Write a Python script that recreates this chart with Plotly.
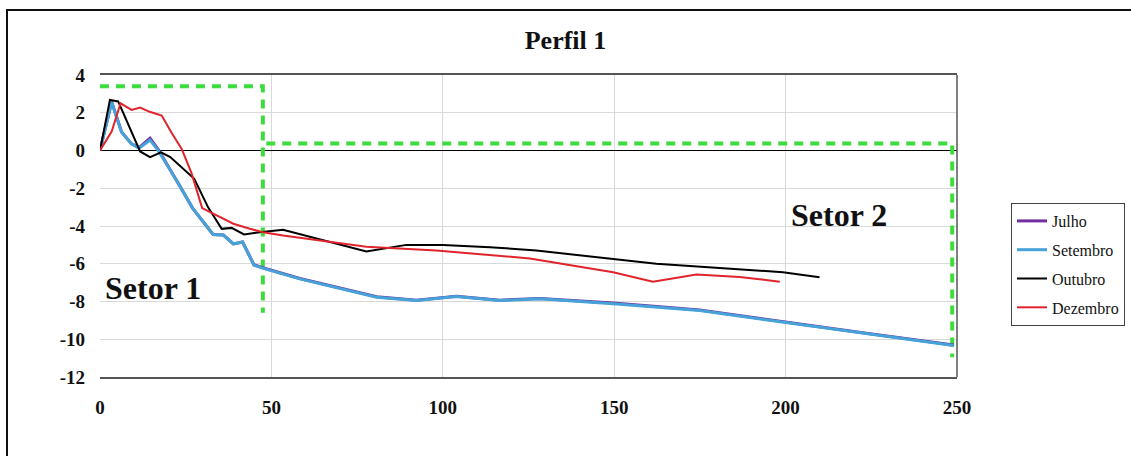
import plotly.graph_objects as go

# Profile data: distance (m) vs elevation (m)
julho_x = [0, 3.4, 6.3, 9.2, 11.4, 14.6, 17.0, 20.5, 23.5, 27.0, 29.8, 33.0, 36.0, 38.9, 41.6,
           44.9, 47.2, 58.3, 80.7, 92.3, 104.0, 116.6, 128.3, 149.7, 174.9, 199.2, 223.5, 249.0]
julho_y = [0, 2.58, 0.98, 0.35, 0.15, 0.65, 0.05, -1.0, -1.95, -3.05, -3.7, -4.45, -4.48, -4.95, -4.85,
           -6.05, -6.2, -6.78, -7.75, -7.93, -7.72, -7.93, -7.84, -8.08, -8.45, -9.08, -9.68, -10.3]

setembro_x = [0, 3.4, 6.3, 9.2, 11.4, 14.6, 17.0, 20.5, 23.5, 27.0, 29.8, 33.0, 36.0, 38.9, 41.6,
              44.9, 47.2, 58.3, 80.7, 92.3, 104.0, 116.6, 128.3, 149.7, 174.9, 199.2, 223.5, 249.0]
setembro_y = [0, 2.56, 0.97, 0.35, 0.12, 0.55, 0.0, -1.02, -1.95, -3.05, -3.7, -4.45, -4.48, -4.95, -4.85,
              -6.08, -6.22, -6.8, -7.77, -7.95, -7.73, -7.95, -7.86, -8.12, -8.48, -9.1, -9.71, -10.33]

outubro_x = [0, 2.9, 5.3, 11.7, 14.6, 17.8, 20.5, 23.5, 27.5, 31.5, 35.5, 38.4, 42.0, 46.6, 53.4,
             77.7, 89.4, 100.1, 113.7, 127.3, 149.7, 162.3, 199.2, 209.9]
outubro_y = [0, 2.68, 2.6, -0.05, -0.35, -0.1, -0.35, -0.85, -1.5, -3.0, -4.15, -4.1, -4.45, -4.33, -4.2,
             -5.35, -5.0, -5.0, -5.12, -5.3, -5.75, -6.0, -6.45, -6.72]

dezembro_x = [0, 3.4, 6.0, 9.2, 11.7, 14.5, 18.0, 21.0, 23.8, 26.7, 29.8, 34.0, 38.9, 43.7, 47.6,
              53.4, 77.7, 98.1, 125.4, 149.7, 161.3, 174.0, 186.6, 198.3]
dezembro_y = [0, 1.0, 2.5, 2.15, 2.28, 2.05, 1.85, 0.9, 0.1, -1.2, -3.05, -3.45, -3.88, -4.15, -4.33,
              -4.5, -5.1, -5.3, -5.72, -6.45, -6.95, -6.57, -6.7, -6.95]

# Sector outlines
setor1_x = [0, 47.5, 47.5]
setor1_y = [3.4, 3.4, -8.6]
setor2_x = [48.5, 248.6, 248.6]
setor2_y = [0.37, 0.37, -10.95]

x_ticks = [0, 50, 100, 150, 200, 250]
y_ticks = [4, 2, 0, -2, -4, -6, -8, -10, -12]

SERIF = "Liberation Serif"
GREEN = "#3cdc3c"

fig = go.Figure()

for sx, sy in [(setor1_x, setor1_y), (setor2_x, setor2_y)]:
    fig.add_trace(go.Scatter(x=sx, y=sy, mode="lines", showlegend=False, hoverinfo="skip",
                             line=dict(color=GREEN, width=4, dash="9px,7px")))

series = [
    ("Julho", julho_x, julho_y, "#7030a0", 3),
    ("Setembro", setembro_x, setembro_y, "#45a3d9", 3),
    ("Outubro", outubro_x, outubro_y, "#000000", 2),
    ("Dezembro", dezembro_x, dezembro_y, "#e0242c", 2),
]
for name, sx, sy, color, w in series:
    fig.add_trace(go.Scatter(x=sx, y=sy, mode="lines", name=name, legendgroup=name,
                             line=dict(color=color, width=w)))

fig.add_annotation(x=1, y=-7.3, xref="x", yref="y", text="<b>Setor 1</b>", showarrow=False,
                   xanchor="left", yanchor="middle", font=dict(family=SERIF, size=32, color="#111"))
fig.add_annotation(x=200.9, y=-3.44, xref="x", yref="y", text="<b>Setor 2</b>", showarrow=False,
                   xanchor="left", yanchor="middle", font=dict(family=SERIF, size=32, color="#111"))

# outer frame and right plot border
fig.add_shape(type="rect", xref="paper", yref="paper",
              x0=(7 - 100) / 857, x1=(1140 - 100) / 857, y0=(377 - 470) / 302, y1=(377 - 10) / 302,
              line=dict(color="#111", width=2), layer="below")
fig.add_shape(type="line", xref="paper", yref="paper", x0=1, x1=1, y0=0, y1=1,
              line=dict(color="#555", width=1.5))

tick_font = dict(family=SERIF, size=19, color="#111", weight="bold")

fig.update_layout(
    width=1131, height=456,
    margin=dict(l=100, r=174, t=75, b=79, autoexpand=False),
    paper_bgcolor="white", plot_bgcolor="white",
    title=dict(text="<b>Perfil 1</b>", x=0.5, xref="container", xanchor="center",
               y=1 - 40 / 456, yref="container", yanchor="middle",
               font=dict(family=SERIF, size=26, color="#111")),
    xaxis=dict(range=[0, 250], tickvals=x_ticks, ticktext=[str(v) for v in x_ticks],
               showgrid=True, gridcolor="#d9d9d9", gridwidth=1, zeroline=False,
               showline=True, linecolor="#555", linewidth=1.5, mirror=True,
               ticks="", ticklabelstandoff=12, tickfont=tick_font),
    yaxis=dict(range=[-12, 4], tickvals=y_ticks, ticktext=[str(v) for v in y_ticks],
               showgrid=True, gridcolor="#d9d9d9", gridwidth=1,
               zeroline=True, zerolinecolor="#000", zerolinewidth=1,
               showline=False, ticks="", ticklabelstandoff=14, tickfont=tick_font),
    legend=dict(x=(1011 - 100) / 857, y=(377 - 203) / 302, xanchor="left", yanchor="top",
                xref="paper", yref="paper",
                bordercolor="#444", borderwidth=1, bgcolor="white",
                font=dict(family=SERIF, size=16, color="#111"),
                tracegroupgap=5, itemwidth=30),
    showlegend=True,
)

fig.write_html("out.html")
